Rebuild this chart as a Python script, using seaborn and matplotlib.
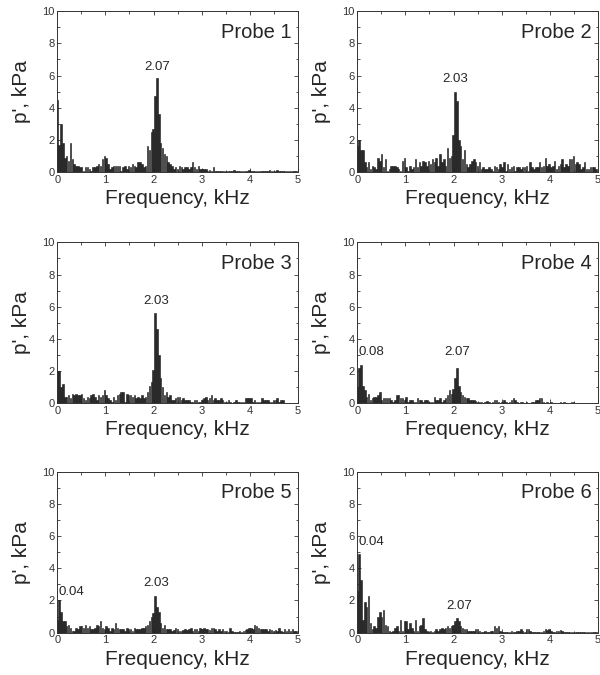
import matplotlib
matplotlib.use('Agg')
import matplotlib.pyplot as plt
from matplotlib.ticker import MultipleLocator
import seaborn as sns
import numpy as np

# frequency bins, kHz (resolution 0.039 kHz)
DF = 0.0390625
freq = np.arange(128) * DF

probe1 = [4.5, 1.7, 3.0, 1.8, 0.9, 1.0, 0.7, 1.8,
          0.8, 0.5, 0.4, 0.4, 0.3, 0.3, 0.1, 0.3,
          0.3, 0.2, 0.1, 0.3, 0.3, 0.4, 0.5, 0.4,
          0.8, 1.0, 0.9, 0.5, 0.2, 0.3, 0.4, 0.4,
          0.4, 0.4, 0.1, 0.3, 0.4, 0.2, 0.4, 0.3,
          0.5, 0.4, 0.3, 0.6, 0.6, 0.5, 0.3, 0.4,
          1.6, 1.4, 2.5, 2.7, 4.7, 5.85, 3.6, 1.8,
          1.5, 1.1, 1.0, 0.6, 0.5, 0.4, 0.2, 0.3,
          0.2, 0.4, 0.3, 0.2, 0.3, 0.3, 0.2, 0.3,
          0.6, 0.3, 0.2, 0.4, 0.2, 0.2, 0.2, 0.2,
          0.1, 0.15, 0.1, 0.3, 0.1, 0.1, 0.08, 0.1,
          0.08, 0.1, 0.05, 0.08, 0.1, 0.05, 0.15, 0.05,
          0.08, 0.1, 0.05, 0.05, 0.1, 0.08, 0.15, 0.05,
          0.05, 0.1, 0.08, 0.05, 0.1, 0.05, 0.05, 0.08,
          0.1, 0.15, 0.05, 0.1, 0.1, 0.15, 0.05, 0.05,
          0.05, 0.08, 0.05, 0.05, 0.08, 0.05, 0.05, 0.05]

probe2 = [1.6, 2.0, 1.4, 1.4, 0.6, 0.3, 0.6, 0.2,
          0.4, 0.3, 0.2, 0.9, 0.7, 1.1, 0.3, 0.8,
          0.1, 0.2, 0.4, 0.4, 0.4, 0.3, 0.2, 0.1,
          0.7, 0.9, 0.3, 0.1, 0.4, 0.2, 0.3, 0.8,
          0.3, 0.6, 0.4, 0.7, 0.6, 0.4, 0.7, 0.5,
          0.8, 0.6, 0.9, 0.4, 1.1, 0.6, 0.8, 0.4,
          1.5, 0.9, 1.0, 2.3, 5.0, 4.4, 2.0, 1.6,
          0.8, 1.4, 0.5, 0.3, 0.5, 0.7, 0.8, 0.6,
          0.4, 0.6, 0.2, 0.3, 0.2, 0.2, 0.3, 0.2,
          0.1, 0.4, 0.3, 0.2, 0.5, 0.3, 0.6, 0.1,
          0.5, 0.2, 0.3, 0.4, 0.1, 0.3, 0.3, 0.2,
          0.3, 0.3, 0.4, 0.1, 0.6, 0.3, 0.2, 0.3,
          0.3, 0.6, 0.3, 0.4, 0.9, 0.4, 0.5, 0.3,
          0.4, 0.7, 0.2, 0.4, 0.5, 0.8, 0.3, 0.5,
          0.4, 0.8, 0.8, 1.0, 0.5, 0.6, 0.5, 0.2,
          0.3, 0.6, 0.2, 0.2, 0.3, 0.3, 0.3, 0.2]

probe3 = [2.0, 2.0, 1.0, 1.2, 0.4, 0.4, 0.5, 0.3,
          0.6, 0.5, 0.6, 0.5, 0.5, 0.6, 0.3, 0.2,
          0.4, 0.3, 0.5, 0.6, 0.4, 0.2, 0.5, 0.4,
          0.5, 0.8, 0.5, 0.3, 0.2, 0.1, 0.4, 0.2,
          0.5, 0.6, 0.7, 0.7, 0.1, 0.6, 0.5, 0.5,
          0.4, 0.5, 0.3, 0.4, 0.3, 0.5, 0.3, 0.4,
          0.7, 1.1, 1.3, 2.1, 5.6, 4.6, 3.0, 1.6,
          1.0, 0.5, 0.7, 0.4, 0.5, 0.2, 0.2, 0.3,
          0.4, 0.4, 0.2, 0.3, 0.2, 0.2, 0.2, 0.1,
          0.1, 0.2, 0.2, 0.1, 0.1, 0.2, 0.3, 0.4,
          0.2, 0.3, 0.5, 0.2, 0.3, 0.2, 0.2, 0.3,
          0.2, 0.1, 0.1, 0.2, 0.1, 0.05, 0.1, 0.2,
          0.1, 0.1, 0.1, 0.1, 0.3, 0.3, 0.3, 0.3,
          0.1, 0.2, 0.1, 0.1, 0.1, 0.3, 0.2, 0.2,
          0.2, 0.1, 0.1, 0.2, 0.2, 0.3, 0.1, 0.2,
          0.2, 0.0, 0.0, 0.0, 0.0, 0.0, 0.0, 0.0]

probe4 = [1.0, 2.2, 2.4, 1.1, 0.8, 0.4, 0.6, 0.2,
          0.3, 0.4, 0.4, 0.5, 0.7, 0.2, 0.3, 0.3,
          0.3, 0.3, 0.2, 0.1, 0.2, 0.5, 0.5, 0.3,
          0.3, 0.2, 0.4, 0.1, 0.2, 0.2, 0.1, 0.1,
          0.3, 0.2, 0.2, 0.1, 0.2, 0.2, 0.1, 0.1,
          0.1, 0.4, 0.2, 0.2, 0.3, 0.1, 0.2, 0.3,
          0.5, 0.8, 0.6, 0.9, 1.6, 2.2, 1.1, 0.7,
          0.5, 0.4, 0.3, 0.3, 0.2, 0.2, 0.2, 0.15,
          0.1, 0.1, 0.1, 0.05, 0.1, 0.15, 0.1, 0.05,
          0.1, 0.2, 0.2, 0.1, 0.05, 0.1, 0.2, 0.1,
          0.05, 0.1, 0.2, 0.3, 0.2, 0.1, 0.05, 0.1,
          0.1, 0.05, 0.1, 0.05, 0.05, 0.1, 0.1, 0.2,
          0.2, 0.3, 0.3, 0.1, 0.05, 0.1, 0.05, 0.1,
          0.05, 0.05, 0.05, 0.05, 0.1, 0.05, 0.1, 0.05,
          0.05, 0.05, 0.1, 0.1, 0.05, 0.05, 0.05, 0.02,
          0.02, 0.02, 0.02, 0.02, 0.02, 0.02, 0.02, 0.02]

probe5 = [0.8, 2.0, 1.3, 0.7, 0.7, 0.4, 0.5, 0.3,
          0.1, 0.1, 0.3, 0.2, 0.4, 0.4, 0.3, 0.5,
          0.3, 0.4, 0.2, 0.2, 0.3, 0.5, 0.4, 0.7,
          0.3, 0.2, 0.4, 0.3, 0.1, 0.3, 0.2, 0.6,
          0.3, 0.2, 0.2, 0.2, 0.1, 0.3, 0.2, 0.2,
          0.1, 0.3, 0.2, 0.2, 0.2, 0.3, 0.3, 0.4,
          0.5, 0.7, 1.0, 1.2, 2.3, 1.6, 1.3, 0.6,
          0.3, 0.5, 0.2, 0.2, 0.2, 0.1, 0.15, 0.3,
          0.2, 0.1, 0.1, 0.15, 0.2, 0.15, 0.2, 0.3,
          0.1, 0.2, 0.2, 0.1, 0.3, 0.2, 0.3, 0.2,
          0.2, 0.15, 0.3, 0.3, 0.2, 0.1, 0.2, 0.1,
          0.2, 0.1, 0.1, 0.05, 0.3, 0.1, 0.05, 0.05,
          0.05, 0.1, 0.05, 0.1, 0.15, 0.2, 0.3, 0.3,
          0.2, 0.5, 0.4, 0.3, 0.2, 0.2, 0.2, 0.2,
          0.1, 0.2, 0.15, 0.1, 0.15, 0.1, 0.3, 0.1,
          0.05, 0.2, 0.1, 0.2, 0.1, 0.2, 0.1, 0.1]

probe6 = [2.6, 4.9, 3.3, 0.8, 1.9, 1.6, 2.3, 0.6,
          0.2, 0.4, 0.3, 1.0, 1.3, 1.0, 1.4, 0.5,
          0.4, 0.1, 0.05, 0.1, 0.3, 0.4, 0.1, 0.8,
          0.1, 0.7, 0.7, 0.2, 0.6, 0.3, 0.1, 0.8,
          0.1, 0.4, 0.5, 0.9, 0.2, 0.1, 0.05, 0.1,
          0.05, 0.1, 0.2, 0.1, 0.2, 0.3, 0.2, 0.3,
          0.4, 0.3, 0.4, 0.5, 0.7, 0.9, 0.7, 0.4,
          0.3, 0.2, 0.2, 0.1, 0.1, 0.1, 0.1, 0.2,
          0.2, 0.1, 0.05, 0.05, 0.1, 0.05, 0.05, 0.1,
          0.1, 0.4, 0.3, 0.4, 0.1, 0.05, 0.05, 0.05,
          0.05, 0.05, 0.1, 0.05, 0.05, 0.1, 0.1, 0.2,
          0.1, 0.05, 0.2, 0.2, 0.1, 0.05, 0.05, 0.05,
          0.05, 0.05, 0.05, 0.1, 0.2, 0.15, 0.2, 0.1,
          0.05, 0.05, 0.1, 0.1, 0.15, 0.1, 0.05, 0.05,
          0.05, 0.05, 0.05, 0.05, 0.03, 0.03, 0.03, 0.03,
          0.03, 0.03, 0.03, 0.03, 0.03, 0.03, 0.03, 0.03]

titles = ["Probe 1", "Probe 2", "Probe 3", "Probe 4", "Probe 5", "Probe 6"]
series = [probe1, probe2, probe3, probe4, probe5, probe6]
# peak labels: (text, x kHz, y kPa, alignment)
peak_labels = [
    [("2.07", 2.07, 6.15, "center")],
    [("2.03", 2.04, 5.4, "center")],
    [("2.03", 2.05, 6.0, "center")],
    [("0.08", 0.02, 2.8, "left"), ("2.07", 2.07, 2.8, "center")],
    [("0.04", 0.02, 2.15, "left"), ("2.03", 2.06, 2.7, "center")],
    [("0.04", 0.02, 5.25, "left"), ("2.07", 2.12, 1.28, "center")],
]

sns.set_style("ticks")
plt.rcParams['font.family'] = ['Liberation Sans', 'DejaVu Sans']

fig = plt.figure(figsize=(6, 6.75), dpi=100)
lefts = [0.0955, 0.5955]
bottoms = [0.745, 0.4025, 0.0627]
w, h = 0.401, 0.2385

for i, (vals, title) in enumerate(zip(series, titles)):
    ax = fig.add_axes([lefts[i % 2], bottoms[i // 2], w, h])
    sns.barplot(x=freq, y=vals, native_scale=True, color="#2b2b2b",
                width=0.8, errorbar=None, edgecolor="#1a1a1a",
                linewidth=0.4, saturation=1, ax=ax)
    ax.set_xlim(0, 5)
    ax.set_ylim(0, 10)
    ax.xaxis.set_major_locator(MultipleLocator(1))
    ax.xaxis.set_minor_locator(MultipleLocator(0.5))
    ax.yaxis.set_major_locator(MultipleLocator(2))
    ax.yaxis.set_minor_locator(MultipleLocator(1))
    ax.tick_params(which="both", direction="in", top=True, right=True,
                   labelsize=8, colors="#333333", width=0.6, pad=2)
    ax.tick_params(which="major", length=3)
    ax.tick_params(which="minor", length=1.8)
    for sp in ax.spines.values():
        sp.set_linewidth(0.7)
        sp.set_color("#333333")
    ax.set_xlabel("Frequency, kHz", fontsize=15, labelpad=3)
    ax.set_ylabel("p', kPa", fontsize=15, labelpad=8)
    ax.text(0.975, 0.87, title, transform=ax.transAxes, ha="right",
            va="center", fontsize=14.5)
    for txt, x, y, ha in peak_labels[i]:
        ax.text(x, y, txt, ha=ha, va="bottom", fontsize=9.5)

fig.savefig("out.png", dpi=100)
